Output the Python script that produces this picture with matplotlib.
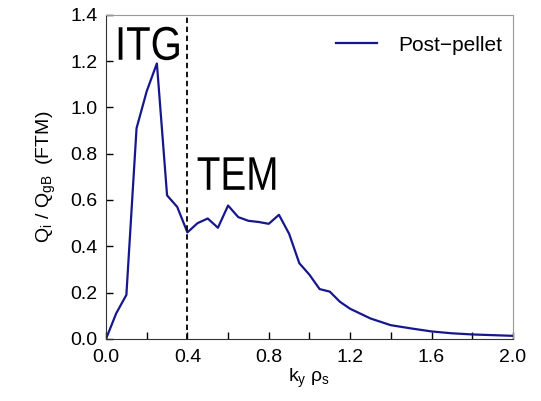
import numpy as np
import matplotlib.pyplot as plt
from matplotlib.textpath import TextPath
from matplotlib.patches import PathPatch
from matplotlib.font_manager import FontProperties
from matplotlib.transforms import Affine2D, ScaledTranslation

plt.rcParams['font.family'] = ['Liberation Sans', 'DejaVu Sans']
plt.rcParams['mathtext.fontset'] = 'custom'
plt.rcParams['mathtext.rm'] = 'Liberation Sans'
plt.rcParams['mathtext.it'] = 'Liberation Sans'

# values
ky = [0.0, 0.05, 0.10, 0.15, 0.20, 0.25, 0.30, 0.35, 0.40, 0.45, 0.50, 0.55,
      0.60, 0.65, 0.70, 0.75, 0.80, 0.85, 0.90, 0.95, 1.00, 1.05, 1.10, 1.15,
      1.20, 1.30, 1.40, 1.50, 1.60, 1.70, 1.80, 1.90, 2.00]
qi = [0.0, 0.11, 0.19, 0.91, 1.07, 1.19, 0.62, 0.57, 0.46, 0.50, 0.52, 0.48,
      0.576, 0.526, 0.51, 0.505, 0.497, 0.536, 0.454, 0.327, 0.277, 0.215, 0.204, 0.16,
      0.13, 0.088, 0.059, 0.045, 0.032, 0.024, 0.019, 0.016, 0.013]
split_ky = 0.4

fig = plt.figure(figsize=(5.41, 4.01), dpi=100)
ax = fig.add_axes([0.196, 0.155, 0.752, 0.808])

ax.plot(ky, qi, color='#17178c', lw=1.6, label='Post\u2212pellet')
ax.plot([split_ky, split_ky], [0, 1.4], color='black', lw=1.3, ls=(0, (3, 2)))


# big region labels, drawn a bit narrower like the original
def narrow_text(x, y, s, size, squeeze):
    tp = TextPath((0, 0), s, size=size, prop=FontProperties(family='Liberation Sans'))
    tr = (Affine2D().scale(squeeze / 72, 1 / 72) + fig.dpi_scale_trans
          + ScaledTranslation(x, y, ax.transData))
    ax.add_patch(PathPatch(tp, transform=tr, color='black', lw=0))


narrow_text(0.044, 1.206, 'ITG', 34, 0.85)
narrow_text(0.446, 0.644, 'TEM', 34, 0.82)

ax.set_xlim(0, 2.0)
ax.set_ylim(0, 1.4)
ax.set_xticks(np.arange(0, 2.01, 0.4))
ax.set_xticks(np.arange(0, 2.01, 0.2), minor=True)
ax.set_yticks(np.arange(0, 1.41, 0.2))
ax.xaxis.set_major_formatter(plt.FormatStrFormatter('%.1f'))
ax.yaxis.set_major_formatter(plt.FormatStrFormatter('%.1f'))
ax.tick_params(which='both', direction='in', length=5, width=1, labelsize=14,
               top=False, right=False)
ax.tick_params(axis='x', pad=7)
ax.tick_params(axis='y', pad=6)

ax.set_xlabel(r'k$_\mathregular{y}$ $\mathregular{\rho}_\mathregular{s}$', fontsize=14, labelpad=1)
ax.set_ylabel(r'Q$_\mathregular{i}$ / Q$_\mathregular{gB}$  (FTM)', fontsize=14, labelpad=9)

for s in ['top', 'right']:
    ax.spines[s].set_color('#999999')
for s in ['left', 'bottom']:
    ax.spines[s].set_color('#333333')

ax.legend(loc='upper right', frameon=False, fontsize=15, handlelength=2.0,
          handletextpad=1.0, bbox_to_anchor=(1.02, 0.994))

fig.savefig('out.png', dpi=100)
